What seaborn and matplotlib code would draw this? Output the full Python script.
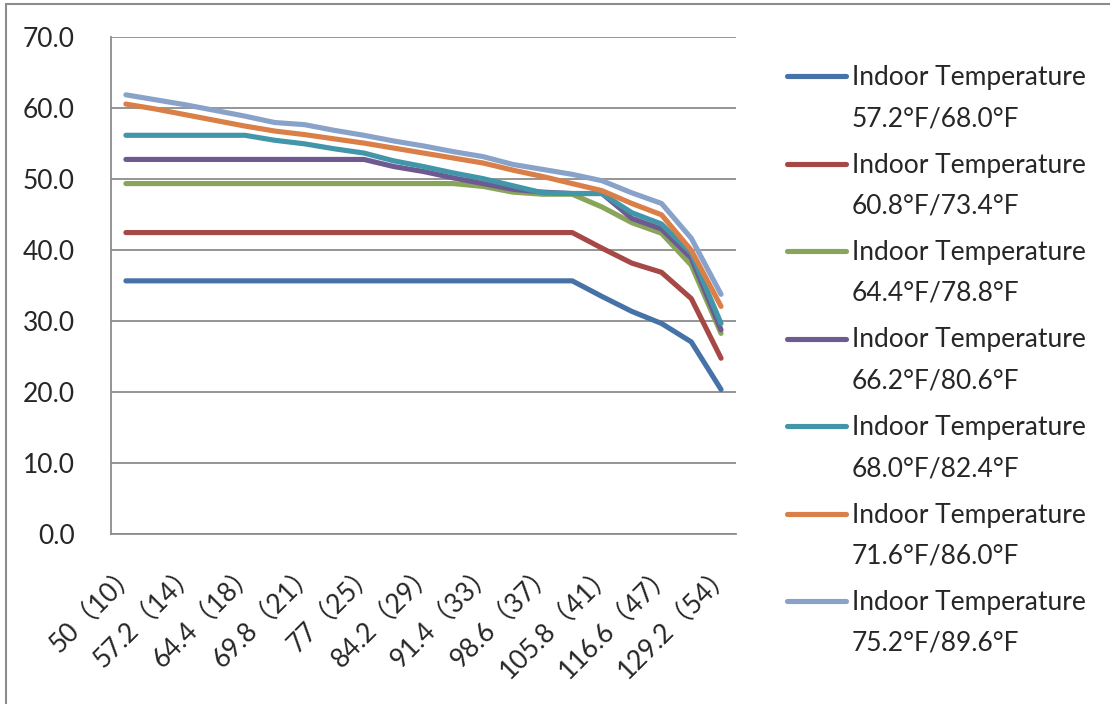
import numpy as np
import pandas as pd
import matplotlib
matplotlib.use('Agg')
from matplotlib import pyplot as plt
from matplotlib.lines import Line2D
import seaborn as sns

# outdoor temperature °F (°C) - only every other one is labelled on the axis
outdoor = ['50（10）', '53.6（12）', '57.2（14）', '60.8（16）', '64.4（18）', '66.2（19）',
           '69.8（21）', '73.4（23）', '77（25）', '80.6（27）', '84.2（29）', '87.8（31）',
           '91.4（33）', '95（35）', '98.6（37）', '102.2（39）', '105.8（41）', '111.2（44）',
           '116.6（47）', '122（50）', '129.2（54）']

series_names = ['Indoor Temperature\n57.2°F/68.0°F',
                'Indoor Temperature\n60.8°F/73.4°F',
                'Indoor Temperature\n64.4°F/78.8°F',
                'Indoor Temperature\n66.2°F/80.6°F',
                'Indoor Temperature\n68.0°F/82.4°F',
                'Indoor Temperature\n71.6°F/86.0°F',
                'Indoor Temperature\n75.2°F/89.6°F']

t_572 = [35.7, 35.7, 35.7, 35.7, 35.7, 35.7, 35.7, 35.7, 35.7, 35.7, 35.7, 35.7,
         35.7, 35.7, 35.7, 35.7, 33.5, 31.4, 29.7, 27.1, 20.4]
t_608 = [42.5, 42.5, 42.5, 42.5, 42.5, 42.5, 42.5, 42.5, 42.5, 42.5, 42.5, 42.5,
         42.5, 42.5, 42.5, 42.5, 40.3, 38.2, 36.9, 33.2, 24.8]
t_644 = [49.4, 49.4, 49.4, 49.4, 49.4, 49.4, 49.4, 49.4, 49.4, 49.4, 49.4, 49.4,
         49.0, 48.2, 47.9, 47.9, 46.1, 43.9, 42.4, 37.9, 28.3]
t_662 = [52.8, 52.8, 52.8, 52.8, 52.8, 52.8, 52.8, 52.8, 52.8, 51.8, 51.1, 50.2,
         49.4, 48.6, 48.2, 48.0, 48.0, 44.5, 43.0, 38.9, 28.8]
t_680 = [56.2, 56.2, 56.2, 56.2, 56.2, 55.5, 55.0, 54.3, 53.7, 52.6, 51.8, 50.9,
         50.1, 49.1, 48.1, 48.0, 48.0, 45.3, 43.7, 39.6, 29.7]
t_716 = [60.6, 59.9, 59.1, 58.3, 57.5, 56.8, 56.3, 55.7, 55.1, 54.4, 53.7, 53.0,
         52.3, 51.3, 50.4, 49.4, 48.4, 46.6, 45.0, 40.0, 32.1]
t_752 = [61.9, 61.2, 60.5, 59.7, 58.9, 58.0, 57.7, 56.9, 56.2, 55.4, 54.7, 53.9,
         53.2, 52.1, 51.4, 50.7, 49.8, 48.1, 46.6, 41.7, 33.8]

colors = ['#4672A8', '#A64846', '#89A55A', '#6E5A91', '#4196AA', '#D97F47', '#88A2C9']

all_values = [t_572, t_608, t_644, t_662, t_680, t_716, t_752]
rows = []
for name, vals in zip(series_names, all_values):
    for i, v in enumerate(vals):
        rows.append({'idx': i, 'value': v, 'series': name})
df = pd.DataFrame(rows)

sns.set_style('white')
plt.rcParams['font.family'] = ['Lato', 'Noto Sans CJK SC', 'DejaVu Sans']
fsize = 19
lw = 3.7

fig = plt.figure(figsize=(11.1, 7.04), dpi=100)
ax = fig.add_axes([0.1, 0.241, 0.563, 0.706])

sns.lineplot(data=df, x='idx', y='value', hue='series', hue_order=series_names,
             palette=colors, linewidth=lw, legend=False, sort=False, ax=ax,
             solid_capstyle='round', solid_joinstyle='round')

grid_c = '#8c8c8c'
ax.set_xlim(-0.5, len(outdoor) - 0.5)
ax.set_ylim(0, 70)
ax.set_yticks(np.arange(0, 71, 10))
ax.set_yticklabels(['%.1f' % v for v in np.arange(0, 71, 10)], fontsize=fsize)
ax.yaxis.grid(True, color=grid_c, linewidth=1.3)
ax.set_axisbelow(True)

ax.set_xticks(range(0, len(outdoor), 2))
ax.set_xticklabels(outdoor[::2], rotation=45, ha='right', rotation_mode='anchor', fontsize=fsize)
ax.set_xticks(np.arange(-0.5, len(outdoor), 1), minor=True)
ax.tick_params(axis='x', which='major', length=0, pad=18)
ax.tick_params(axis='x', which='minor', length=7, width=1.3, color=grid_c, direction='out')
ax.tick_params(axis='y', length=9, width=1.3, color=grid_c, direction='out', pad=17)
ax.set_xlabel('')
ax.set_ylabel('')

for s in ['top', 'right']:
    ax.spines[s].set_visible(False)
for s in ['left', 'bottom']:
    ax.spines[s].set_color(grid_c)
    ax.spines[s].set_linewidth(1.3)

# legend on the right, handle level with the first text line
W, H = 1110, 704
for i, (name, c) in enumerate(zip(series_names, colors)):
    yc = 76 + i * 87.5
    fig.add_artist(Line2D([787 / W, 846 / W], [1 - yc / H, 1 - yc / H], color=c,
                          linewidth=lw, solid_capstyle='round'))
    fig.text(852 / W, 1 - (yc - 11) / H, name, fontsize=fsize, va='top', ha='left',
             linespacing=1.8)

# outer frame (only left and top edges visible)
fig.add_artist(Line2D([6 / W, 6 / W], [0, 1 - 4 / H], color=grid_c, linewidth=1.5))
fig.add_artist(Line2D([6 / W, 1], [1 - 4 / H, 1 - 4 / H], color=grid_c, linewidth=1.5))

fig.savefig('out.png', dpi=100)
